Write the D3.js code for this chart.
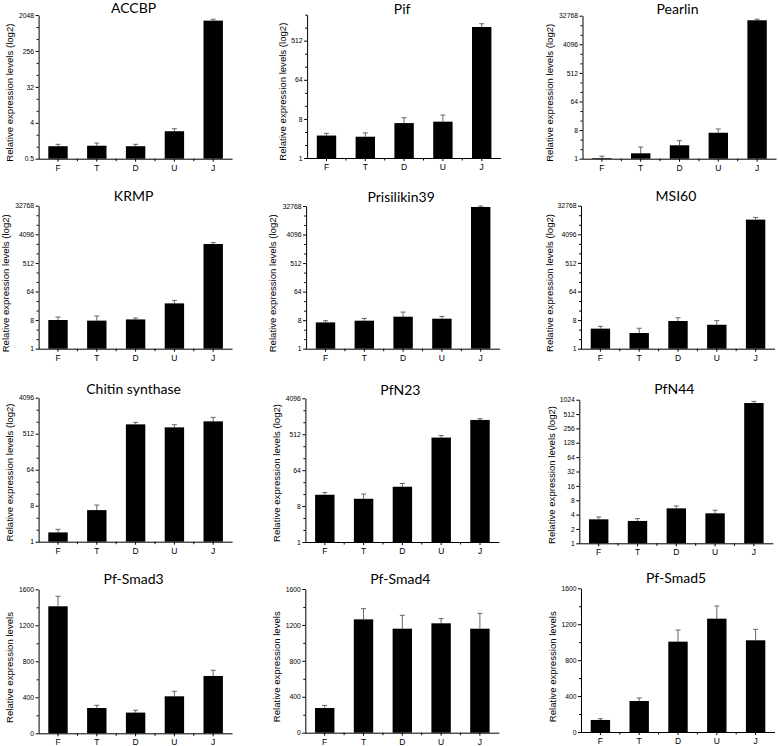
<!DOCTYPE html>
<html><head><meta charset="utf-8">
<script src="https://cdn.jsdelivr.net/npm/d3@7"></script>
<style>
html,body{margin:0;padding:0;background:#fff;}
svg{display:block;}
</style></head>
<body>
<svg id="chart" width="778" height="746"></svg>
<script>
// ---------- DATA ----------
const categories = ["F", "T", "D", "U", "J"];
const genes = ["ACCBP", "Pif", "Pearlin", "KRMP", "Prisilikin39", "MSI60",
               "Chitin synthase", "PfN23", "PfN44", "Pf-Smad3", "Pf-Smad4", "Pf-Smad5"];

// mean expression per stage (F,T,D,U,J) and upper error (SD)
const ACCBP_mean   = [1.03, 1.06, 1.03, 2.45, 1478];
const ACCBP_err    = [0.12, 0.18, 0.12, 0.39, 122];
const Pif_mean     = [3.3, 3.1, 6.4, 6.9, 1060];
const Pif_err      = [0.4, 0.7, 2.1, 2.9, 200];
const Pearlin_mean = [1.05, 1.48, 2.65, 6.6, 23500];
const Pearlin_err  = [0.15, 0.86, 1.05, 2.1, 1900];
const KRMP_mean    = [8.05, 7.7, 8.4, 27, 2020];
const KRMP_err     = [1.95, 3.1, 0.9, 6.6, 210];
const Pris_mean    = [6.8, 7.7, 10.3, 8.9, 30500];
const Pris_err     = [0.9, 1.4, 4.1, 1.6, 2200];
const MSI60_mean   = [4.3, 3.12, 7.5, 5.7, 11900];
const MSI60_err    = [0.8, 1.3, 2.0, 2.0, 2100];
const Chitin_mean  = [1.71, 6.2, 878, 738, 1045];
const Chitin_err   = [0.33, 2.1, 107, 123, 270];
const PfN23_mean   = [15.4, 12.2, 24.5, 422, 1170];
const PfN23_err    = [2.2, 3.8, 5.1, 52, 95];
const PfN44_mean   = [3.18, 2.94, 5.4, 4.25, 872];
const PfN44_err    = [0.38, 0.35, 0.67, 0.68, 73];
const Smad3_mean   = [1411, 281, 230, 411, 637];
const Smad3_err    = [111, 30, 26, 56, 63];
const Smad4_mean   = [275, 1262, 1158, 1218, 1158];
const Smad4_err    = [29, 119, 149, 52, 171];
const Smad5_mean   = [134, 345, 1006, 1262, 1021];
const Smad5_err    = [14, 34, 130, 141, 122];

// y-axis domains and tick labels
const domACCBP = [0.5, 2048],  ticksACCBP = [0.5, 4, 32, 256, 2048];
const domPif   = [1, 2048],    ticksPif   = [1, 8, 64, 512];
const dom32k   = [1, 32768],   ticks32k   = [1, 8, 64, 512, 4096, 32768];
const dom4k    = [1, 4096],    ticks4k    = [1, 8, 64, 512, 4096];
const dom1k    = [1, 1024],    ticks1k    = [1, 2, 4, 8, 16, 32, 64, 128, 256, 512, 1024];
const domLin   = [0, 1600],    ticksLin   = [0, 400, 800, 1200, 1600];
const minorLin = [200, 600, 1000, 1400];

const yLabelLog = "Relative expression levels (log2)";
const yLabelLin = "Relative expression levels";

const means = [ACCBP_mean, Pif_mean, Pearlin_mean, KRMP_mean, Pris_mean, MSI60_mean,
               Chitin_mean, PfN23_mean, PfN44_mean, Smad3_mean, Smad4_mean, Smad5_mean];
const errs  = [ACCBP_err, Pif_err, Pearlin_err, KRMP_err, Pris_err, MSI60_err,
               Chitin_err, PfN23_err, PfN44_err, Smad3_err, Smad4_err, Smad5_err];
const domains = [domACCBP, domPif, dom32k, dom32k, dom32k, dom32k, dom4k, dom4k, dom1k, domLin, domLin, domLin];
const tickSets = [ticksACCBP, ticksPif, ticks32k, ticks32k, ticks32k, ticks32k, ticks4k, ticks4k, ticks1k, ticksLin, ticksLin, ticksLin];

// ---------- LAYOUT ----------
// left, top, bottom of plot area; title baseline; y-label center
const layout = [
  {l: 38.6, t: 15,    b: 158.7, ty: 13,  lx: 9,     ly: 92.6},
  {l: 307.1, t: 14.6, b: 158,   ty: 14,  lx: 282.5, ly: 91.7},
  {l: 582.5, t: 15.7, b: 158.7, ty: 14,  lx: 549,   ly: 92.8},
  {l: 38.6, t: 205.7, b: 348.7, ty: 201, lx: 5,     ly: 283.3},
  {l: 306.1, t: 206,  b: 348.7, ty: 202, lx: 272.5, ly: 283.3},
  {l: 581,  t: 205.7, b: 348.7, ty: 201, lx: 549,   ly: 283},
  {l: 38.6, t: 397.7, b: 541.7, ty: 394, lx: 9,     ly: 472.5},
  {l: 305.4, t: 398.3, b: 542,  ty: 395, lx: 276.7, ly: 473},
  {l: 579.3, t: 399.7, b: 543.3, ty: 394, lx: 551,  ly: 475},
  {l: 38.6, t: 589.3, b: 733.3, ty: 584, lx: 9,     ly: 667.5},
  {l: 305.3, t: 589,  b: 732.7, ty: 584, lx: 276,   ly: 666.7},
  {l: 581,  t: 588.3, b: 732,   ty: 583, lx: 552,   ly: 666.7}
];
const plotW = 194;

const svg = d3.select("#chart");
const tickFont = "'Liberation Sans', Arial, sans-serif";

genes.forEach((name, i) => {
  const L = layout[i];
  const isLog = i < 9;
  const g = svg.append("g");

  const x = d3.scaleBand().domain(categories)
    .range([L.l, L.l + plotW]).paddingInner(0.5).paddingOuter(0.25);
  const y = isLog
    ? d3.scaleLog().base(2).domain(domains[i]).range([L.b, L.t])
    : d3.scaleLinear().domain(domains[i]).range([L.b, L.t]);

  // minor ticks
  let minor;
  if (isLog) {
    const d = domains[i];
    minor = d3.range(Math.round(Math.log2(d[0])), Math.round(Math.log2(d[1])) + 1)
      .map(p => Math.pow(2, p))
      .filter(v => !tickSets[i].includes(v));
  } else {
    minor = minorLin;
  }
  g.append("g").attr("transform", `translate(${L.l},0)`)
    .call(d3.axisLeft(y).tickValues(minor).tickSize(2).tickFormat(""))
    .call(s => s.select(".domain").remove())
    .selectAll("line").attr("stroke", "#000");

  // major y axis
  const yAxis = g.append("g").attr("transform", `translate(${L.l},0)`)
    .call(d3.axisLeft(y).tickValues(tickSets[i]).tickSize(3).tickSizeOuter(0).tickPadding(1.5)
      .tickFormat(d => String(d)));
  yAxis.selectAll("text").attr("font-family", tickFont).attr("font-size", 6.8).attr("fill", "#000");
  yAxis.selectAll("line,path").attr("stroke", "#000");

  // x axis
  const xAxis = g.append("g").attr("transform", `translate(0,${L.b})`)
    .call(d3.axisBottom(x).tickSize(3).tickSizeOuter(0).tickPadding(3));
  xAxis.select(".domain").attr("d", `M${L.l},0.5H${L.l + plotW}`);
  xAxis.selectAll("text").attr("font-family", tickFont).attr("font-size", 8.5).attr("fill", "#000");
  xAxis.selectAll("line,path").attr("stroke", "#000");
  // boundary ticks
  const step = x.step();
  g.selectAll(".bt").data(d3.range(1, 5)).enter().append("line")
    .attr("x1", k => L.l + k * step).attr("x2", k => L.l + k * step)
    .attr("y1", L.b).attr("y2", L.b + 2.5).attr("stroke", "#000");

  // error bars
  const m = means[i], e = errs[i];
  categories.forEach((c, k) => {
    const cx = x(c) + x.bandwidth() / 2;
    const y0 = y(m[k]), y1 = y(m[k] + e[k]);
    g.append("line").attr("x1", cx).attr("x2", cx).attr("y1", y0).attr("y2", y1)
      .attr("stroke", "#666").attr("stroke-width", 1);
    g.append("line").attr("x1", cx - 2.5).attr("x2", cx + 2.5).attr("y1", y1).attr("y2", y1)
      .attr("stroke", "#666").attr("stroke-width", 1);
  });

  // bars
  g.selectAll(".bar").data(categories).enter().append("rect")
    .attr("x", c => x(c))
    .attr("width", x.bandwidth())
    .attr("y", (c, k) => y(m[k]))
    .attr("height", (c, k) => L.b - y(m[k]))
    .attr("fill", "#000");

  // title
  svg.append("text").attr("x", L.l + plotW / 2 - 2).attr("y", L.ty)
    .attr("text-anchor", "middle").attr("font-family", "Lato, 'Open Sans', sans-serif")
    .attr("font-size", 14).attr("fill", "#000").text(name);

  // y label
  svg.append("text")
    .attr("transform", `translate(${L.lx + 3.5},${L.ly}) rotate(-90)`)
    .attr("text-anchor", "middle").attr("font-family", tickFont)
    .attr("font-size", 9.6).attr("fill", "#000")
    .text(isLog ? yLabelLog : yLabelLin);
});
</script>
</body></html>
